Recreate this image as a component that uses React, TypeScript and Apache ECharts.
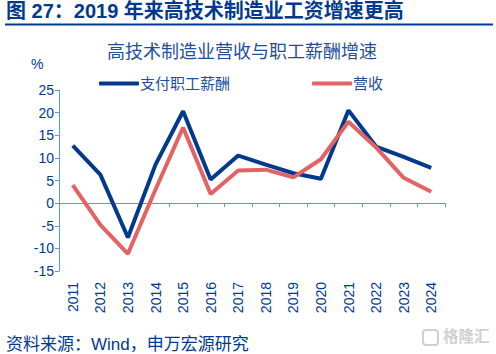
import React, { useEffect, useRef } from "react";
import * as echarts from "echarts";

const years = ["2011","2012","2013","2014","2015","2016","2017","2018","2019","2020","2021","2022","2023","2024"];
const wages = [12.7, 6.3, -7.6, 8.5, 20.3, 5.2, 10.5, 8.5, 6.6, 5.4, 20.5, 12.5, 10.2, 7.8];
const revenue = [4, -4.8, -11.2, 3, 16.7, 2, 7.2, 7.4, 5.7, 9.7, 18, 12.3, 5.6, 2.5];
const wagesName = "支付职工薪酬";
const revenueName = "营收";
const heading = "图 27：2019 年来高技术制造业工资增速更高";
const chartTitle = "高技术制造业营收与职工薪酬增速";
const source = "资料来源：Wind，申万宏源研究";
const watermark = "格隆汇";

const NAVY = "#003A8F";
const RED = "#E46164";
const AXIS = "#5B9BD5";
const FONT = '"Liberation Sans", "Noto Sans CJK SC", sans-serif';

export default function App() {
  const ref = useRef<HTMLDivElement>(null);
  useEffect(() => {
    const chart = echarts.init(ref.current!, undefined, { renderer: "svg" });
    chart.setOption({
      animation: false,
      backgroundColor: "#fff",
      textStyle: { fontFamily: FONT },
      grid: { left: 59, right: 51, top: 90, bottom: 83, containLabel: false, outerBoundsMode: "none" },
      legend: {
        left: 94,
        top: 71,
        itemWidth: 40,
        itemHeight: 4,
        itemGap: 82,
        icon: "roundRect",
        textStyle: { color: "#1F4E9C", fontSize: 15, fontFamily: FONT, padding: [0, 0, 0, -4] },
        data: [wagesName, revenueName],
      },
      xAxis: {
        type: "category",
        data: years,
        boundaryGap: true,
        axisLine: { onZero: true, lineStyle: { color: AXIS, width: 1 } },
        axisTick: { show: true, alignWithLabel: false, length: 4, lineStyle: { color: AXIS } },
        axisLabel: { rotate: 90, margin: 11, color: NAVY, fontSize: 14, fontFamily: FONT, interval: 0 },
        splitLine: { show: false },
      },
      yAxis: {
        type: "value",
        min: -15,
        max: 25,
        interval: 5,
        axisLine: { show: true, lineStyle: { color: AXIS, width: 1 } },
        axisTick: { show: true, length: 4, lineStyle: { color: AXIS } },
        axisLabel: { color: NAVY, fontSize: 14, fontFamily: FONT, margin: 5 },
        splitLine: { show: false },
      },
      series: [
        { name: wagesName, type: "line", data: wages, symbol: "none", lineStyle: { color: NAVY, width: 4 }, itemStyle: { color: NAVY } },
        { name: revenueName, type: "line", data: revenue, symbol: "none", lineStyle: { color: RED, width: 4 }, itemStyle: { color: RED } },
      ],
      graphic: [
        { type: "text", x: 6, y: 1, style: { text: heading, fill: NAVY, font: `bold 20px ${FONT}` } },
        { type: "rect", shape: { x: 5, y: 23.5, width: 488, height: 2 }, style: { fill: NAVY } },
        { type: "text", x: 107, y: 43, style: { text: chartTitle, fill: "#1F4E9C", font: `18px ${FONT}` } },
        { type: "text", x: 31, y: 57, style: { text: "%", fill: NAVY, font: `14px ${FONT}` } },
        { type: "text", x: 6, y: 336, style: { text: source, fill: NAVY, font: `17px ${FONT}` } },
        { type: "text", x: 443, y: 329, style: { text: watermark, fill: "#D0D0D0", font: `bold 15.5px ${FONT}` } },
        { type: "rect", shape: { x: 423, y: 330, width: 15, height: 15, r: 3 }, style: { fill: "none", stroke: "#D0D0D0", lineWidth: 2 } },
      ],
    });
    return () => chart.dispose();
  }, []);
  return <div ref={ref} style={{ position: "fixed", left: 0, top: 0, width: 496, height: 354 }} />;
}
